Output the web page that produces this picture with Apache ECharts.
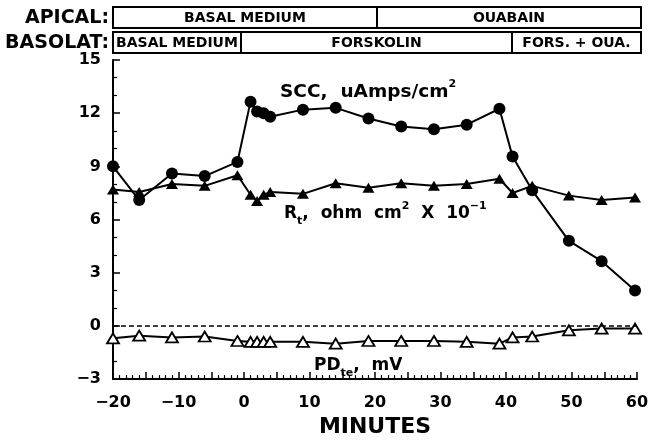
<!DOCTYPE html>
<html>
<head>
<meta charset="utf-8">
<script src="https://cdn.jsdelivr.net/npm/echarts@6/dist/echarts.min.js"></script>
<style>
html, body { margin: 0; padding: 0; background: #fff; }
#chart { width: 659px; height: 443px; }
</style>
</head>
<body>
<div id="chart"></div>
<script>
// time points (minutes) shared by the three traces
var minutes = [-20, -16, -11, -6, -1, 1, 2, 3, 4, 9, 14, 19, 24, 29, 34, 39, 41, 44, 49.6, 54.6, 59.7];
// short circuit current, uAmps/cm2
var scc = [9.0, 7.1, 8.6, 8.45, 9.25, 12.65, 12.1, 12.0, 11.8, 12.2, 12.3, 11.7, 11.25, 11.1, 11.35, 12.25, 9.55, 7.65, 4.8, 3.65, 2.0];
// transepithelial resistance, ohm cm2 x 10^-1
var rt = [7.7, 7.55, 8.0, 7.9, 8.5, 7.4, 7.05, 7.4, 7.55, 7.45, 8.05, 7.8, 8.05, 7.9, 8.0, 8.3, 7.5, 7.9, 7.35, 7.1, 7.25];
// transepithelial potential difference, mV
var pd = [-0.7, -0.55, -0.65, -0.6, -0.85, -0.9, -0.9, -0.9, -0.9, -0.9, -1.0, -0.85, -0.85, -0.85, -0.9, -1.0, -0.65, -0.6, -0.25, -0.15, -0.15];

var yTicks = [-3, 0, 3, 6, 9, 12, 15];
var xTicks = [-20, -10, 0, 10, 20, 30, 40, 50, 60];

var apicalBoxes = ['BASAL MEDIUM', 'OUABAIN'];
var basolatBoxes = ['BASAL MEDIUM', 'FORSKOLIN', 'FORS. + OUA.'];

var font = 'DejaVu Sans';

function pairs(values) {
    return minutes.map(function (m, i) { return [m, values[i]]; });
}
function minus(v) {
    return String(v).replace('-', '\u2212');
}

var myChart = echarts.init(document.getElementById('chart'));

// header boxes (pixel layout)
var rowTop = [7, 32];
var rowH = 21;
var apicalEdges = [113, 377, 641];
var basolatEdges = [113, 241, 512, 641];
var graphics = [];

function addRow(edges, names, top) {
    for (var i = 0; i < names.length; i++) {
        graphics.push({
            type: 'rect',
            shape: { x: edges[i], y: top, width: edges[i + 1] - edges[i], height: rowH },
            style: { fill: '#fff', stroke: '#000', lineWidth: 2 }
        });
        graphics.push({
            type: 'text',
            x: (edges[i] + edges[i + 1]) / 2,
            y: top + rowH / 2 + 1,
            style: {
                text: names[i], fill: '#000', font: 'bold 14px ' + font,
                align: 'center', verticalAlign: 'middle'
            }
        });
    }
}
addRow(apicalEdges, apicalBoxes, rowTop[0]);
addRow(basolatEdges, basolatBoxes, rowTop[1]);

graphics.push({
    type: 'text', x: 109, y: rowTop[0] + rowH / 2 + 1,
    style: { text: 'APICAL:', fill: '#000', font: 'bold 19px ' + font, align: 'right', verticalAlign: 'middle' }
});
graphics.push({
    type: 'text', x: 109, y: rowTop[1] + rowH / 2 + 1,
    style: { text: 'BASOLAT:', fill: '#000', font: 'bold 19px ' + font, align: 'right', verticalAlign: 'middle' }
});

// curve labels
function richStyle(size) {
    return {
        m: { fontSize: size, fontWeight: 'bold', fontFamily: font, lineHeight: 26, verticalAlign: 'middle' },
        sup: { fontSize: 11, fontWeight: 'bold', fontFamily: font, lineHeight: 26, verticalAlign: 'top' },
        sub: { fontSize: 11, fontWeight: 'bold', fontFamily: font, lineHeight: 26, verticalAlign: 'bottom' }
    };
}
graphics.push({
    type: 'text', x: 280, y: 92,
    style: { text: '{m|SCC,  uAmps/cm}{sup|2}', rich: richStyle(18.5), fill: '#000', verticalAlign: 'middle' }
});
graphics.push({
    type: 'text', x: 284, y: 214,
    style: { text: '{m|R}{sub|t}{m|,  ohm  cm}{sup|2}{m|  X  10}{sup|\u22121}', rich: richStyle(17), fill: '#000', verticalAlign: 'middle' }
});
graphics.push({
    type: 'text', x: 314, y: 366,
    style: { text: '{m|PD}{sub|te}{m|,  mV}', rich: richStyle(17), fill: '#000', verticalAlign: 'middle' }
});

var option = {
    animation: false,
    backgroundColor: '#fff',
    grid: { left: 113, right: 22, top: 60, bottom: 58 },
    xAxis: {
        type: 'value',
        min: -20, max: 60, interval: 5,
        name: 'MINUTES', nameLocation: 'middle', nameGap: 30,
        nameTextStyle: { color: '#000', fontFamily: font, fontWeight: 'bold', fontSize: 22 },
        axisLine: { onZero: false, lineStyle: { color: '#000', width: 2 } },
        axisTick: { inside: true, length: 7, lineStyle: { color: '#000', width: 1.5 } },
        minorTick: { show: true, splitNumber: 5, length: 4, lineStyle: { color: '#000', width: 1.2 } },
        splitLine: { show: false },
        axisLabel: {
            color: '#000', fontFamily: font, fontWeight: 'bold', fontSize: 16, margin: 16,
            formatter: function (v) { return xTicks.indexOf(v) >= 0 ? minus(v) : ''; }
        }
    },
    yAxis: {
        type: 'value',
        min: -3, max: 15, interval: 3,
        axisLine: { show: true, onZero: false, lineStyle: { color: '#000', width: 2 } },
        axisTick: { show: true, inside: true, length: 7, lineStyle: { color: '#000', width: 1.5 } },
        minorTick: { show: true, splitNumber: 3, length: 4, lineStyle: { color: '#000', width: 1.2 } },
        splitLine: { show: false },
        axisLabel: {
            color: '#000', fontFamily: font, fontWeight: 'bold', fontSize: 16, margin: 12,
            formatter: function (v) { return yTicks.indexOf(v) >= 0 ? minus(v) : ''; }
        }
    },
    series: [
        {
            name: 'PD',
            type: 'line',
            data: pairs(pd),
            symbol: 'triangle', symbolSize: [12, 10],
            itemStyle: { color: '#fff', borderColor: '#000', borderWidth: 1.8 },
            lineStyle: { color: '#000', width: 2 },
            markLine: {
                silent: true, symbol: 'none',
                label: { show: false },
                lineStyle: { color: '#000', width: 1.5, type: [5, 3] },
                data: [{ yAxis: 0 }]
            },
            z: 3
        },
        {
            name: 'Rt',
            type: 'line',
            data: pairs(rt),
            symbol: 'triangle', symbolSize: [12, 10],
            itemStyle: { color: '#000' },
            lineStyle: { color: '#000', width: 2 },
            z: 3
        },
        {
            name: 'SCC',
            type: 'line',
            data: pairs(scc),
            symbol: 'circle', symbolSize: 12,
            itemStyle: { color: '#000' },
            lineStyle: { color: '#000', width: 2 },
            z: 4
        }
    ],
    graphic: graphics
};

myChart.setOption(option);
</script>
</body>
</html>
